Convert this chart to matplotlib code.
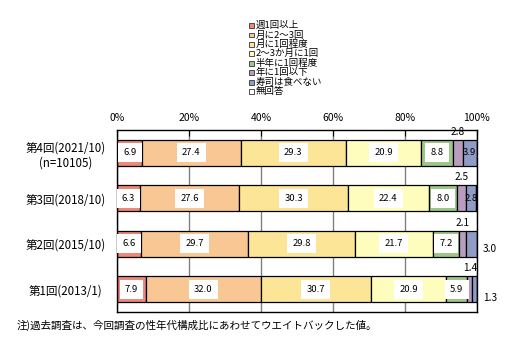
import matplotlib
matplotlib.use("Agg")
import matplotlib.pyplot as plt
from matplotlib.patches import Rectangle
import numpy as np

plt.rcParams['font.family'] = ['Noto Sans CJK JP', 'DejaVu Sans']

categories = ["第4回(2021/10)\n(n=10105)", "第3回(2018/10)", "第2回(2015/10)", "第1回(2013/1)"]
series_names = ["週1回以上", "月に2〜3回", "月に1回程度", "2〜3か月に1回",
                "半年に1回程度", "年に1回以下", "寿司は食べない", "無回答"]
weekly = [6.9, 6.3, 6.6, 7.9]
twice_month = [27.4, 27.6, 29.7, 32.0]
once_month = [29.3, 30.3, 29.8, 30.7]
bimonthly = [20.9, 22.4, 21.7, 20.9]
half_year = [8.8, 8.0, 7.2, 5.9]
yearly = [2.8, 2.5, 2.1, 1.4]
never = [3.9, 2.8, 3.0, 1.3]
no_answer = [0.0, 0.1, 0.0, 0.0]
xticks = [0, 20, 40, 60, 80, 100]
xticklabels = ["0%", "20%", "40%", "60%", "80%", "100%"]
note = "注)過去調査は、今回調査の性年代構成比にあわせてウエイトバックした値。"

colors = ["#EE8878", "#F9C794", "#FCE597", "#FFFDBE", "#9DC78A", "#BA9CC0", "#909CC6", "#FFFFFF"]
data = [weekly, twice_month, once_month, bimonthly, half_year, yearly, never, no_answer]

W, H = 513, 355
fig = plt.figure(figsize=(W / 100, H / 100), dpi=100)
ax = fig.add_axes([117.3/W, 43/H, (476.7-117.3)/W, 182/H])

y = np.arange(len(categories))
left = np.zeros(len(categories))
for i, (vals, c) in enumerate(zip(data, colors)):
    vals = np.array(vals)
    ax.barh(y, vals, left=left, height=0.58, color=c, edgecolor="black", linewidth=0.9, zorder=2)
    for j, v in enumerate(vals):
        cx = left[j] + v / 2
        if i <= 4:
            ax.text(cx, y[j], f"{v:.1f}", ha="center", va="center", fontsize=6.8, zorder=4,
                    bbox=dict(boxstyle="square,pad=0.55", fc="white", ec="none"))
        elif i == 5:
            ax.text(cx, y[j] - 0.46, f"{v:.1f}", ha="center", va="center", fontsize=7.3, zorder=4)
        elif i == 6:
            if j < 2:
                ax.text(cx, y[j], f"{v:.1f}", ha="center", va="center", fontsize=6.8, zorder=4)
            else:
                ax.text(101.8, y[j] + 0.12 + (0.08 if j == 3 else 0), f"{v:.1f}", ha="left",
                        va="center", fontsize=7.3, zorder=4, clip_on=False)
    left = left + vals

ax.set_xlim(0, 100)
ax.set_ylim(len(categories) - 0.5, -0.5)
ax.set_yticks(y)
ax.set_yticklabels(categories, fontsize=8.3, ha="center", multialignment="center")
ax.tick_params(axis="y", length=0, pad=37.5)
ax.xaxis.tick_top()
ax.set_xticks(xticks)
ax.set_xticklabels(xticklabels, fontsize=7.5)
ax.tick_params(axis="x", direction="in", length=4, width=0.8, pad=5)
ax.grid(axis="x", color="#808080", linewidth=1.0, zorder=0)
ax.set_axisbelow(True)
for s in ax.spines.values():
    s.set_color("black")
    s.set_linewidth(1.0)

# legend (manual, tight rows like the reference)
row0, step = 25.5, 9.45
for k, (name, c) in enumerate(zip(series_names, colors)):
    yc = row0 + k * step
    fig.add_artist(Rectangle((249 / W, 1 - (yc + 2.4) / H), 4.8 / W, 4.8 / H,
                             transform=fig.transFigure, facecolor=c,
                             edgecolor="#333333", linewidth=0.6))
    fig.text(255.5 / W, 1 - yc / H, name, fontsize=6.8, ha="left", va="center")

fig.text(17 / W, 1 - 325 / H, note, fontsize=7.6, ha="left", va="center")

fig.savefig("out.png", dpi=100)
